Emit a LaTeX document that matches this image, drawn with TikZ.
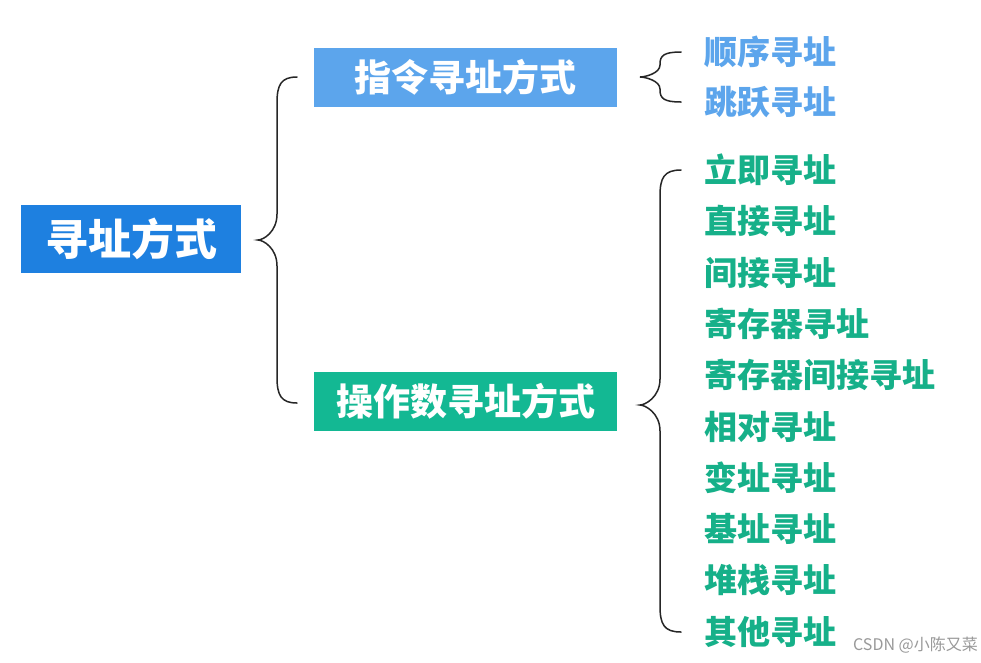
\documentclass[tikz,border=0pt]{standalone}
\usepackage{fontspec}
\newfontfamily\cjk{Noto Sans CJK SC}
\usetikzlibrary{positioning, calc}
\definecolor{rootblue}{HTML}{1E80E0}
\definecolor{zlblue}{HTML}{5CA5EC}
\definecolor{czgreen}{HTML}{13B893}
\definecolor{leafgreen}{HTML}{16B089}
\tikzset{
    rootbox/.style={fill=rootblue, text=white, inner sep=0pt, minimum width=220pt, minimum height=68pt, font=\cjk\bfseries\fontsize{43}{43}\selectfont},
    midbox/.style={fill=#1, text=white, inner sep=0pt, minimum width=303pt, minimum height=59pt, font=\cjk\bfseries\fontsize{37}{37}\selectfont},
    leaf/.style={text=#1, anchor=west, inner sep=0pt, font=\cjk\bfseries\fontsize{33}{33}\selectfont},
    bracestyle/.style={draw=black!85, line width=1.5pt, line cap=round}
}
% #1 tip x, #2 spine x, #3 end x, #4 top y, #5 tip y, #6 bottom y, #7 curve radius
\newcommand{\curlybrace}[7]{%
    \draw[bracestyle] (#3,#4) .. controls ({#2+4},#4) and (#2,{#4+#7*0.3}) .. (#2,{#4+#7}) -- (#2,{#5-#7})
        .. controls (#2,{#5-#7*0.3}) and ({#1+5},#5) .. (#1,#5)
        .. controls ({#1+5},#5) and (#2,{#5+#7*0.3}) .. (#2,{#5+#7})
        -- (#2,{#6-#7}) .. controls (#2,{#6-#7*0.3}) and ({#2+4},#6) .. (#3,#6);
}
\begin{document}
\begin{tikzpicture}[x=1pt, y=-1pt]
    \useasboundingbox[fill=white] (0,0) rectangle (981,662);
    % boxes
    \node[rootbox] (root) at (131,239) {寻址方式};
    \node[midbox=zlblue] (zl) at (465.5,77.5) {指令寻址方式};
    \node[midbox=czgreen] (cz) at (465.5,401) {操作数寻址方式};
    % leaves
    \node[leaf=zlblue] (s1) at (704,52) {顺序寻址};
    \node[leaf=zlblue] (s2) at (704,102) {跳跃寻址};
    \foreach \t [count=\i] in {立即寻址,直接寻址,间接寻址,寄存器寻址,寄存器间接寻址,相对寻址,变址寻址,基址寻址,堆栈寻址,其他寻址}
        \node[leaf=leafgreen] (g\i) at (704,{170+51.3*(\i-1)}) {\t};
    % braces
    \curlybrace{258}{277}{297}{77}{240}{403}{26}
    \curlybrace{640}{660}{681}{52}{77}{102}{12}
    \curlybrace{640}{660}{681}{170}{405}{632}{26}
    % watermark
    \node[anchor=east, text=black!40, inner sep=0pt, font=\cjk\fontsize{16}{16}\selectfont] (wm) at (978,645) {CSDN @小陈又菜};
\end{tikzpicture}
\end{document}
